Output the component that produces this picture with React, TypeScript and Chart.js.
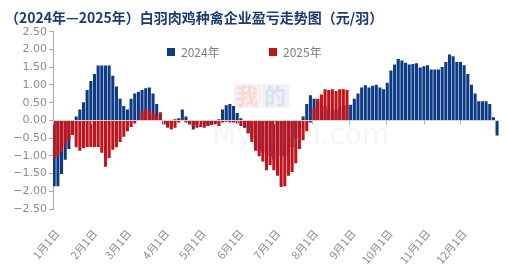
import React, { useEffect, useRef } from "react";
import { Chart, registerables } from "chart.js";

Chart.register(...registerables);

const TITLE = "（2024年—2025年）白羽肉鸡种禽企业盈亏走势图（元/羽）";
const SERIES_NAMES = ["2024年", "2025年"];
const SERIES_COLORS = ["#0d3a84", "#c2121c"];
const MONTH_LABELS = ["1月1日", "2月1日", "3月1日", "4月1日", "5月1日", "6月1日", "7月1日", "8月1日", "9月1日", "10月1日", "11月1日", "12月1日"];
const MONTH_START_DAYS = [0, 31, 59, 90, 120, 151, 181, 212, 243, 273, 304, 334];
const Y_TICKS = [-2.5, -2, -1.5, -1, -0.5, 0, 0.5, 1, 1.5, 2, 2.5];

// day-of-year of each reading (every 3 days)
const DAYS = [
  1, 4, 7, 10, 13, 16, 19, 22, 25, 28,
  31, 34, 37, 40, 43, 46, 49, 52, 55, 58,
  61, 64, 67, 70, 73, 76, 79, 82, 85, 88,
  91, 94, 97, 100, 103, 106, 109, 112, 115, 118,
  121, 124, 127, 130, 133, 136, 139, 142, 145, 148,
  151, 154, 157, 160, 163, 166, 169, 172, 175, 178,
  181, 184, 187, 190, 193, 196, 199, 202, 205, 208,
  211, 214, 217, 220, 223, 226, 229, 232, 235, 238,
  241, 244, 247, 250, 253, 256, 259, 262, 265, 268,
  271, 274, 277, 280, 283, 286, 289, 292, 295, 298,
  301, 304, 307, 310, 313, 316, 319, 322, 325, 328,
  331, 334, 337, 340, 343, 346, 349, 352, 355, 358,
  361, 364,
];

const VALUES_2024 = [
  -1.85, -1.85, -1.5, -1.1, -0.8, -0.3, 0.1, 0.3, 0.5, 0.85,
  1.1, 1.3, 1.54, 1.54, 1.54, 1.54, 1.25, 0.95, 0.6, 0.4,
  0.3, 0.6, 0.75, 0.8, 0.85, 0.9, 0.92, 0.75, 0.45, 0.15,
  -0.1, -0.15, -0.1, 0.02, 0.05, 0.3, 0.1, -0.1, -0.25, -0.1,
  -0.05, -0.1, -0.15, -0.1, -0.05, 0.02, 0.3, 0.42, 0.45, 0.4,
  0.2, 0.05, -0.2, -0.35, -0.5, -0.7, -0.85, -0.9, -1.0, -1.0,
  -1.1, -1.1, -1.0, -1.0, -0.9, -0.75, -0.5, -0.2, 0.1, 0.45,
  0.7, 0.6, 0.55, 0.48, 0.4, 0.3, 0.25, 0.3, 0.35, 0.4,
  0.42, 0.43, 0.6, 0.75, 0.92, 0.98, 0.92, 0.97, 1.0, 0.92,
  0.87, 1.05, 1.4, 1.57, 1.72, 1.68, 1.62, 1.57, 1.58, 1.6,
  1.48, 1.52, 1.55, 1.43, 1.43, 1.43, 1.5, 1.64, 1.85, 1.8,
  1.64, 1.64, 1.55, 1.3, 1.0, 0.75, 0.53, 0.53, 0.53, 0.45,
  0.08, -0.42,
];

const VALUES_2025 = [
  -1.06, -1.0, -0.88, -0.7, -0.55, -0.4, -0.75, -0.85, -0.78, -0.74,
  -0.74, -0.74, -0.74, -0.9, -1.3, -1.05, -0.82, -0.75, -0.6, -0.45,
  -0.3, -0.18, -0.08, 0.02, 0.25, 0.3, 0.28, 0.2, 0.12, 0.22,
  -0.1, -0.2, -0.25, -0.2, -0.05, 0.05, -0.05, -0.1, -0.15, -0.2,
  -0.18, -0.2, -0.15, -0.12, -0.1, -0.15, -0.05, -0.03, -0.05, -0.05,
  -0.08, -0.15, -0.15, -0.35, -0.6, -0.85, -1.0, -1.15, -1.4, -1.25,
  -1.4, -1.55, -1.87, -1.85, -1.55, -1.45, -1.2, -0.8, -0.55, -0.3,
  -0.05, 0.35, 0.6, 0.72, 0.87, 0.85, 0.87, 0.82, 0.87, 0.87,
  0.85,
];

const TICK_FONT = "'DejaVu Sans', sans-serif";
const CJK_FONT = "'Noto Sans CJK SC', sans-serif";

const overlayPlugin = {
  id: "overlay",
  afterDatasetsDraw(chart: any) {
    const { ctx, chartArea, scales } = chart;
    const y0 = Math.round(scales.y.getPixelForValue(0)) + 0.5;
    ctx.save();
    // zero axis line
    ctx.strokeStyle = "#d3d3d3";
    ctx.lineWidth = 1;
    ctx.beginPath();
    ctx.moveTo(chartArea.left, y0);
    ctx.lineTo(chartArea.right, y0);
    ctx.stroke();
    // month tick marks below zero line
    ctx.strokeStyle = "#b5b5b5";
    ctx.beginPath();
    MONTH_START_DAYS.forEach((d) => {
      const x = Math.round(scales.x.getPixelForValue(d)) + 0.5;
      ctx.moveTo(x, y0);
      ctx.lineTo(x, y0 + 4);
    });
    ctx.stroke();

    // faint watermark
    ctx.globalAlpha = 0.08;
    ctx.fillStyle = "#d02020";
    ctx.fillRect(234, 84, 27, 24);
    ctx.fillStyle = "#2050a0";
    ctx.fillRect(262, 84, 27, 24);
    ctx.globalAlpha = 0.1;
    ctx.font = `bold 22px ${CJK_FONT}`;
    ctx.textBaseline = "middle";
    ctx.textAlign = "left";
    ctx.fillStyle = "#d02020";
    ctx.fillText("我", 236, 96);
    ctx.fillStyle = "#2050a0";
    ctx.fillText("的", 264, 96);
    ctx.globalAlpha = 0.08;
    ctx.fillStyle = "#808080";
    ctx.font = `28px ${TICK_FONT}`;
    ctx.fillText("Mysteel.com", 212, 137);
    ctx.globalAlpha = 1;

    // legend
    const legendX = [167, 269];
    ctx.font = `12px ${CJK_FONT}`;
    ctx.textBaseline = "middle";
    ctx.textAlign = "left";
    SERIES_NAMES.forEach((name, i) => {
      ctx.fillStyle = SERIES_COLORS[i];
      ctx.fillRect(legendX[i], 48, 8, 8);
      ctx.fillStyle = "#7f7f7f";
      ctx.fillText(name, legendX[i] + 14, 52.5);
    });
    ctx.restore();
  },
};

export default function App() {
  const canvasRef = useRef<HTMLCanvasElement | null>(null);

  useEffect(() => {
    document.body.style.margin = "0";
    const canvas = canvasRef.current;
    if (!canvas) return;

    const data2024 = DAYS.map((d, i) => ({ x: d, y: VALUES_2024[i] }));
    const data2025 = DAYS.slice(0, VALUES_2025.length).map((d, i) => ({ x: d, y: VALUES_2025[i] }));

    const chart = new Chart(canvas, {
      type: "bar",
      data: {
        datasets: [
          {
            label: SERIES_NAMES[0],
            data: data2024,
            backgroundColor: SERIES_COLORS[0],
            grouped: false,
            barThickness: 2.4,
            order: 1,
          } as any,
          {
            label: SERIES_NAMES[1],
            data: data2025,
            backgroundColor: SERIES_COLORS[1],
            grouped: false,
            barThickness: 2.4,
            order: 0,
          } as any,
        ],
      },
      options: {
        responsive: false,
        animation: false,
        layout: { padding: { left: 5, right: 5.5, top: 0, bottom: 0 } },
        plugins: {
          legend: { display: false },
          tooltip: { enabled: false },
          title: {
            display: true,
            text: TITLE,
            align: "start",
            color: "#1d3a72",
            font: { family: CJK_FONT, size: 14, weight: "bold" },
            padding: { top: 9, bottom: 6 },
          },
        },
        scales: {
          x: {
            type: "linear",
            min: 0,
            max: 366,
            offset: false,
            grid: { display: false },
            border: { display: false },
            afterBuildTicks: (scale: any) => {
              scale.ticks = MONTH_START_DAYS.map((v) => ({ value: v }));
            },
            afterFit: (scale: any) => {
              scale.height = 68;
            },
            ticks: {
              autoSkip: false,
              minRotation: 50,
              maxRotation: 50,
              padding: 10,
              labelOffset: 4,
              color: "#8c8c8c",
              font: { family: CJK_FONT, size: 11 },
              callback: (_v: any, i: number) => MONTH_LABELS[i],
            },
          },
          y: {
            min: -2.5,
            max: 2.5,
            afterBuildTicks: (scale: any) => {
              scale.ticks = Y_TICKS.map((v) => ({ value: v }));
            },
            afterFit: (scale: any) => {
              scale.width = 48;
            },
            grid: {
              display: true,
              drawOnChartArea: false,
              drawTicks: true,
              tickLength: 4,
              color: "#a6a6a6",
            },
            border: { display: true, color: "#a6a6a6" },
            ticks: {
              padding: 2,
              color: "#8c8c8c",
              font: { family: TICK_FONT, size: 11 },
              callback: (v: any) => {
                const n = Number(v);
                return (n < 0 ? "−" : "") + Math.abs(n).toFixed(2);
              },
            },
          },
        },
      },
      plugins: [overlayPlugin],
    });

    return () => chart.destroy();
  }, []);

  return (
    <div style={{ width: 505, height: 277 }}>
      <canvas ref={canvasRef} width={505} height={277} style={{ display: "block" }} />
    </div>
  );
}
